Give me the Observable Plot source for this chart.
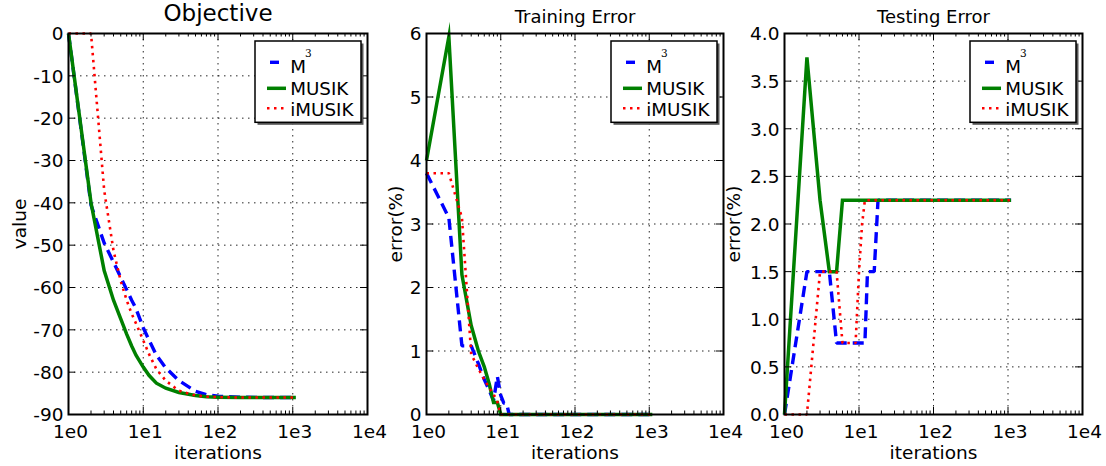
<!DOCTYPE html>
<html><head><meta charset="utf-8">
<script src="https://cdn.jsdelivr.net/npm/d3@7"></script>
<script src="https://cdn.jsdelivr.net/npm/@observablehq/plot@0.6"></script>
<style>
body{margin:0;background:#fff}
#wrap{position:relative;width:1106px;height:466px;overflow:hidden;background:#fff}
#wrap svg{position:absolute;top:0;left:0}
</style>
</head><body><div id="wrap"></div>
<script>
// ---------- data ----------
const seriesNames = ["M3", "MUSIK", "iMUSIK"];
const xTicks = [1, 10, 100, 1000, 10000];

const objIters  = [1, 2, 3, 4, 5, 6, 7, 8, 10, 12, 15, 20, 30, 50, 70, 100, 200, 500, 1100];
const objM3     = [0, -40.5, -49.5, -54, -57.6, -60.5, -63, -65, -69.5, -72.5, -76, -79, -82, -84.5, -85.3, -85.7, -85.9, -86, -86];
const objMUSIK  = [0, -40, -56, -63, -67.4, -71, -73.8, -76, -78.8, -80.8, -82.6, -83.8, -84.8, -85.5, -85.8, -85.9, -86, -86, -86];
const objIMUSIK = [0, 0, -37, -51.3, -58.5, -63, -66.2, -68.5, -72.5, -75.8, -79.3, -82, -84.4, -85.5, -85.8, -85.9, -86, -86, -86];
const objYTicks = [-90, -80, -70, -60, -50, -40, -30, -20, -10, 0];

const trIters  = [1, 2, 3, 4, 5, 6, 7, 8, 9, 10, 11, 12, 13, 14, 20, 100, 1100];
const trM3     = [3.8, 3.1, 1.08, 1.08, 0.8, 0.55, 0.38, 0.22, 0.6, 0.3, 0.18, 0.17, 0, 0, 0, 0, 0];
const trMUSIK  = [4.0, 5.95, 2.2, 1.4, 1.0, 0.75, 0.48, 0.19, 0.19, 0, 0, 0, 0, 0, 0, 0, 0];
const trIMUSIK = [3.8, 3.8, 3.1, 0.95, 0.72, 0.55, 0.42, 0.32, 0.2, 0, 0, 0, 0, 0, 0, 0, 0];
const trYTicks = [0, 1, 2, 3, 4, 5, 6];

const teIters  = [1, 2, 3, 4, 5, 6, 7, 8, 9, 10, 11, 12, 13, 14, 15, 16, 18, 20, 50, 100, 1100];
const teM3     = [0, 1.5, 1.5, 1.5, 0.75, 0.75, 0.75, 0.75, 0.75, 0.75, 0.75, 0.75, 1.5, 1.5, 1.5, 1.5, 2.25, 2.25, 2.25, 2.25, 2.25];
const teMUSIK  = [0, 3.75, 2.25, 1.5, 1.5, 2.25, 2.25, 2.25, 2.25, 2.25, 2.25, 2.25, 2.25, 2.25, 2.25, 2.25, 2.25, 2.25, 2.25, 2.25, 2.25];
const teIMUSIK = [0, 0, 1.5, 1.5, 1.5, 0.75, 0.75, 0.75, 0.75, 1.5, 2.0, 2.25, 2.25, 2.25, 2.25, 2.25, 2.25, 2.25, 2.25, 2.25, 2.25];
const teYTicks = [0, 0.5, 1, 1.5, 2, 2.5, 3, 3.5, 4];

// ---------- styles ----------
const lineStyle = {
  M3:     {stroke: "#0000ff", strokeWidth: 3.4, strokeDasharray: "11,6", strokeLinecap: "butt", strokeLinejoin: "miter"},
  MUSIK:  {stroke: "#008000", strokeWidth: 3.5, strokeLinecap: "butt", strokeLinejoin: "miter", strokeMiterlimit: 10},
  iMUSIK: {stroke: "#ff0000", strokeWidth: 2.6, strokeDasharray: "2.5,4.5", strokeLinecap: "butt", strokeLinejoin: "miter"}
};

const minorTicks = [];
for (let k = 0; k < 4; k++) for (let m = 2; m <= 9; m++) minorTicks.push(m * Math.pow(10, k));

const FONT = "DejaVu Sans";
const W = 1106, H = 466, MT = 33, MB = 466 - 414;

function panel(cfg) {
  const ml = cfg.left, mr = W - cfg.right;
  const pw = cfg.right - cfg.left, ph = 414 - MT;
  const rows = [];
  cfg.series.forEach(s => s.x.forEach((x, i) => rows.push({name: s.name, x, y: s.y[i]})));
  const inner = cfg.yTicks.slice(1, -1);
  const dotted = {stroke: "#000", strokeWidth: 1, strokeDasharray: "1.5,4.5", strokeOpacity: 0.85};
  const marks = [
    Plot.ruleX([10, 100, 1000], dotted),
    Plot.ruleY(inner, dotted),
    ...seriesNames.map(n => Plot.line(rows.filter(r => r.name === n), {x: "x", y: "y", ...lineStyle[n]})),
    Plot.ruleX(xTicks, {insetTop: ph - 7, stroke: "#000", strokeWidth: 1}),
    Plot.ruleX(xTicks, {insetBottom: ph - 7, stroke: "#000", strokeWidth: 1}),
    Plot.ruleX(minorTicks, {insetTop: ph - 3.5, stroke: "#000", strokeWidth: 1}),
    Plot.ruleX(minorTicks, {insetBottom: ph - 3.5, stroke: "#000", strokeWidth: 1}),
    Plot.ruleY(cfg.yTicks, {insetRight: pw - 7, stroke: "#000", strokeWidth: 1}),
    Plot.ruleY(cfg.yTicks, {insetLeft: pw - 7, stroke: "#000", strokeWidth: 1}),
    Plot.frame({stroke: "#000", strokeWidth: 2}),
    Plot.axisX({ticks: xTicks, tickFormat: d => "1e" + Math.round(Math.log10(d)), tickSize: 0, tickPadding: 10, dx: 2, fontSize: 18.5, label: null}),
    Plot.axisY({ticks: cfg.yTicks, tickFormat: cfg.yFormat, tickSize: 0, tickPadding: 5, dy: 1, fontSize: 18.5, label: null}),
    Plot.text([cfg.title], {frameAnchor: "top", lineAnchor: "middle", textAnchor: "middle", text: d => d, dy: cfg.titleDy, fontSize: cfg.titleSize, fill: "#000"}),
    Plot.text(["iterations"], {frameAnchor: "bottom", lineAnchor: "middle", textAnchor: "middle", text: d => d, dy: 38.6, fontSize: 18.5, fill: "#000"}),
    Plot.text([cfg.ylabel], {frameAnchor: "left", lineAnchor: "middle", textAnchor: "middle", text: d => d, rotate: -90, dx: cfg.ylabelX - cfg.left, fontSize: 18.5, fill: "#000"})
  ];
  const svg = Plot.plot({
    width: W, height: H,
    marginLeft: ml, marginRight: mr, marginTop: MT, marginBottom: MB,
    style: {fontFamily: FONT, fontSize: "18.5px", background: "transparent", color: "#000", overflow: "visible"},
    x: {type: "log", domain: [1, 1e4]},
    y: {domain: cfg.yDomain},
    marks
  });
  // legend (upper right, with shadow)
  const g = d3.select(svg).append("g").attr("text-anchor", "start");
  const bw = 106, bh = 81.3;
  const bx = cfg.right - 6 - bw, by = MT + 8;
  g.append("rect").attr("x", bx + 2.5).attr("y", by + 2.5).attr("width", bw).attr("height", bh).attr("fill", "#555");
  g.append("rect").attr("x", bx).attr("y", by).attr("width", bw).attr("height", bh).attr("fill", "#fff").attr("stroke", "#000").attr("stroke-width", 1.5);
  const entries = [
    {n: "M3", label: "M", hy: 21.3, ty: 32.3, x1: 15, x2: 24},
    {n: "MUSIK", label: "MUSIK", hy: 47.3, ty: 54, x1: 12, x2: 31},
    {n: "iMUSIK", label: "iMUSIK", hy: 67.3, ty: 75, x1: 12, x2: 31}
  ];
  entries.forEach(e => {
    const st = lineStyle[e.n];
    g.append("line").attr("x1", bx + e.x1).attr("x2", bx + e.x2).attr("y1", by + e.hy).attr("y2", by + e.hy)
      .attr("stroke", st.stroke).attr("stroke-width", st.strokeWidth)
      .attr("stroke-dasharray", e.n === "iMUSIK" ? st.strokeDasharray : null);
    g.append("text").attr("x", bx + 35.2).attr("y", by + e.ty).attr("font-family", FONT).attr("font-size", 18.3)
      .attr("text-anchor", "start").attr("fill", "#000").text(e.label);
  });
  g.append("text").attr("x", bx + 50).attr("y", by + 15.7).attr("font-family", "DejaVu Serif").attr("font-size", 10.5)
    .attr("text-anchor", "start").attr("fill", "#000").text("3");
  return svg;
}

const wrap = document.getElementById("wrap");
wrap.appendChild(panel({
  left: 68, right: 367, yDomain: [-90, 0], yTicks: objYTicks, yFormat: d => String(d),
  title: "Objective", titleSize: 23, titleDy: -19.4, ylabel: "value", ylabelX: 19.2,
  series: [{name: "M3", x: objIters, y: objM3}, {name: "MUSIK", x: objIters, y: objMUSIK}, {name: "iMUSIK", x: objIters, y: objIMUSIK}]
}));
wrap.appendChild(panel({
  left: 426, right: 723, yDomain: [0, 6], yTicks: trYTicks, yFormat: d => String(d),
  title: "Training Error", titleSize: 18, titleDy: -16.3, ylabel: "error(%)", ylabelX: 396,
  series: [{name: "M3", x: trIters, y: trM3}, {name: "MUSIK", x: trIters, y: trMUSIK}, {name: "iMUSIK", x: trIters, y: trIMUSIK}]
}));
wrap.appendChild(panel({
  left: 784, right: 1082, yDomain: [0, 4], yTicks: teYTicks, yFormat: d3.format(".1f"),
  title: "Testing Error", titleSize: 18, titleDy: -16.3, ylabel: "error(%)", ylabelX: 734,
  series: [{name: "M3", x: teIters, y: teM3}, {name: "MUSIK", x: teIters, y: teMUSIK}, {name: "iMUSIK", x: teIters, y: teIMUSIK}]
}));
</script>
</body></html>
